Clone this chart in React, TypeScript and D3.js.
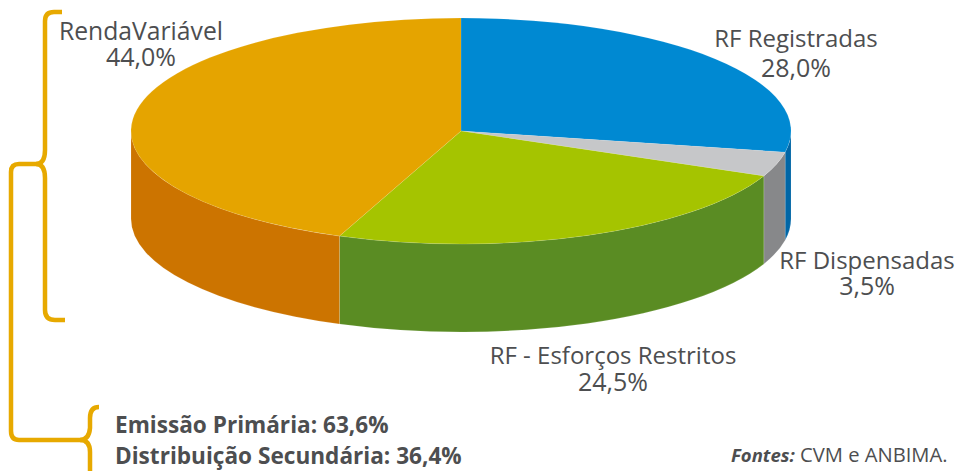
import React, { useEffect, useRef } from "react";
import * as d3 from "d3";

const categories = ["RF Registradas", "RF Dispensadas", "RF - Esforços Restritos", "RendaVariável"];
const shares = [28.0, 3.5, 24.5, 44.0];
const shareLabels = ["28,0%", "3,5%", "24,5%", "44,0%"];
const topColors = ["#0089d2", "#c6c7c9", "#a5c400", "#e5a400"];
const sideColors = ["#0066a6", "#87888a", "#5a8c23", "#cc7400"];
const labelPositions = [
	[796, 47, 77],
	[867, 269, 295],
	[613, 364, 391],
	[141, 40, 66],
];
const nameSizes = [24, 24, 24, 24.7];
const summary = ["Emissão Primária: 63,6%", "Distribuição Secundária: 36,4%"];

const width = 956;
const height = 471;
const cx = 461;
const cy = 131;
const rx = 330;
const ry = 113;
const depth = 88;
const textColor = "#4d4e50";
const font = "'Open Sans', 'Noto Sans', sans-serif";

const App = () => {
	const ref = useRef<SVGSVGElement>(null);

	useEffect(() => {
		const svg = d3.select(ref.current);
		svg.selectAll("*").remove();

		const slices = d3.pie<number>().sort(null)(shares);
		const pt = (a: number, dy = 0) => [cx + rx * Math.sin(a), cy - ry * Math.cos(a) + dy];

		// outer wall, only the front half of the ellipse shows
		const wall = svg.append("g");
		slices.forEach((s, i) => {
			const a0 = Math.max(s.startAngle, Math.PI / 2);
			const a1 = Math.min(s.endAngle, (3 * Math.PI) / 2);
			if (a1 <= a0) return;
			const [x0, y0] = pt(a0);
			const [x1, y1] = pt(a1);
			wall
				.append("path")
				.attr(
					"d",
					`M${x0},${y0}A${rx},${ry} 0 0 1 ${x1},${y1}L${x1},${y1 + depth}A${rx},${ry} 0 0 0 ${x0},${y0 + depth}Z`,
				)
				.attr("fill", sideColors[i])
				.attr("stroke", "#ffffff")
				.attr("stroke-opacity", 0.25)
				.attr("stroke-width", 0.5);
		});

		// top face, a circle squashed into the ellipse
		const arc = d3.arc<d3.PieArcDatum<number>>().innerRadius(0).outerRadius(rx);
		svg
			.append("g")
			.attr("transform", `translate(${cx},${cy}) scale(1,${ry / rx})`)
			.selectAll("path")
			.data(slices)
			.join("path")
			.attr("d", arc)
			.attr("fill", (_, i) => topColors[i])
			.attr("stroke", "#ffffff")
			.attr("stroke-opacity", 0.3)
			.attr("stroke-width", 0.5);

		// slice labels
		const labels = svg
			.append("g")
			.attr("font-family", font)
			.attr("fill", textColor)
			.attr("text-anchor", "middle");
		categories.forEach((c, i) => {
			const [x, y1, y2] = labelPositions[i];
			labels.append("text").attr("x", x).attr("y", y1).attr("font-size", nameSizes[i]).text(c);
			labels.append("text").attr("x", x).attr("y", y2).attr("font-size", 25).text(shareLabels[i]);
		});

		// brackets
		const brace = svg
			.append("g")
			.attr("fill", "none")
			.attr("stroke", "#e7a900")
			.attr("stroke-width", 4.5);
		brace
			.append("path")
			.attr(
				"d",
				"M62,12L54,12Q45,12 45,21L45,150Q45,164 36,164L19,164Q11,164 11,172L11,431Q11,440 19,440L80,440Q89,440 90,428L90,418Q90,407 99,407",
			);
		brace.append("path").attr("d", "M36,164Q45,164 45,178L45,310Q45,320 55,320L65,320");
		brace.append("path").attr("d", "M80,440Q90,440 90,452L90,471");

		const notes = svg
			.append("g")
			.attr("font-family", font)
			.attr("font-size", 22.6)
			.attr("font-weight", 700)
			.attr("fill", textColor);
		summary.forEach((t, i) => {
			notes
				.append("text")
				.attr("x", 115)
				.attr("y", 433 + i * 31)
				.text(t);
		});

		const source = svg
			.append("text")
			.attr("x", 731)
			.attr("y", 462)
			.attr("font-family", font)
			.attr("font-size", 18.5)
			.attr("fill", textColor);
		source.append("tspan").attr("font-weight", 700).attr("font-style", "italic").text("Fontes:");
		source.append("tspan").attr("font-size", 20.2).text(" CVM e ANBIMA.");
	}, []);

	return (
		<svg
			ref={ref}
			width={width}
			height={height}
			style={{ position: "absolute", left: 0, top: 0, background: "#fff" }}
		/>
	);
};

export default App;
